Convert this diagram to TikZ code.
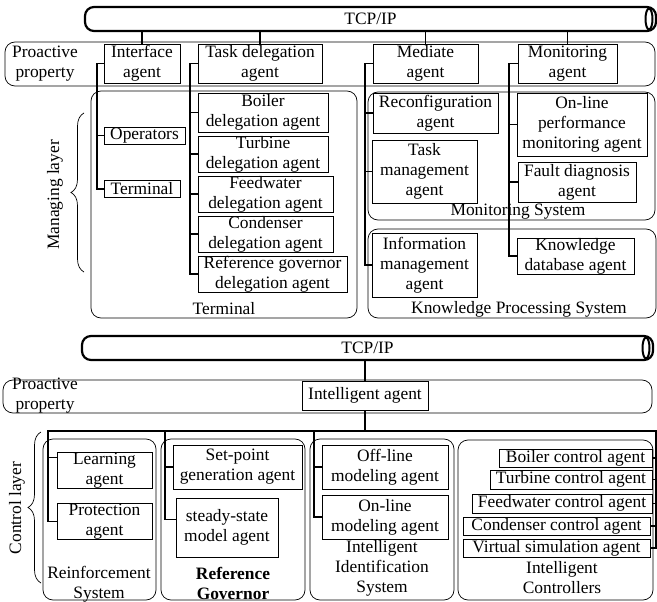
\documentclass[tikz,border=0pt]{standalone}
\usepackage{fontspec}
\setmainfont{Liberation Serif}
\usepackage{tikz}
\usetikzlibrary{decorations.pathreplacing}
\tikzset{
  boxsize/.style 2 args={minimum width=#1pt,minimum height=#2pt},
  agentbox/.style={draw,line width=0.8pt,inner sep=0pt,align=center},
  systembox/.style={draw,line width=0.7pt,rounded corners=10pt},
  trunk/.style={line width=1.8pt},
  pipe/.style={draw,line width=2.2pt,rounded corners=9pt,inner sep=0pt},
  layerbrace/.style={decorate,decoration={brace,amplitude=13pt},line width=0.7pt}
}

\begin{document}
\begin{tikzpicture}[x=1pt,y=-1pt,font=\fontsize{17.4}{20}\selectfont]
    \useasboundingbox (0,0) rectangle (657,602);

    \node[pipe,boxsize={571}{24}] (tcpA) at (370.5,19) {TCP/IP};
    \draw[line width=2pt] (649,19) ellipse (3.5pt and 10.5pt);
    \draw[systembox] (5,42) rectangle (655,86);
    \node[align=center] (propA) at (45,64) {Proactive\\property};

    \draw[systembox] (91,91) rectangle (357,318);
    \draw[systembox] (368,92) rectangle (655,220);
    \draw[systembox] (368,229) rectangle (656,318);
    \node (termlbl) at (224,309) {Terminal};
    \node (monlbl) at (518,212) {Monitoring System};
    \node (kpslbl) at (519,309) {Knowledge Processing System};

    \draw[layerbrace] (84,272) -- (84,113);
    \node[rotate=90] (manlbl) at (55,195) {Managing layer};

    \node[agentbox,boxsize={76}{39}] (iface) at (142,63.5) {Interface\\agent};
    \node[agentbox,boxsize={124}{39}] (taskdel) at (260,63.5) {Task delegation\\agent};
    \node[agentbox,boxsize={105}{39}] (mediate) at (425.5,63.5) {Mediate\\agent};
    \node[agentbox,boxsize={99}{39}] (monitor) at (567.5,63.5) {Monitoring\\agent};

    \node[agentbox,boxsize={81}{17}] (operators) at (144.5,135.5) {Operators};
    \node[agentbox,boxsize={76}{17}] (terminal) at (142,189) {Terminal};

    \node[agentbox,boxsize={130}{39}] (boilerdel) at (263,112.5) {Boiler\\delegation agent};
    \node[agentbox,boxsize={130}{36}] (turbdel) at (263,154) {Turbine\\delegation agent};
    \node[agentbox,boxsize={135}{36}] (feeddel) at (265.5,194) {Feedwater\\delegation agent};
    \node[agentbox,boxsize={135}{36}] (conddel) at (265.5,234) {Condenser\\delegation agent};
    \node[agentbox,boxsize={149}{36}] (refdel) at (272.5,274) {Reference governor\\delegation agent};

    \node[agentbox,boxsize={125}{40}] (reconf) at (435.5,113) {Reconfiguration\\agent};
    \node[agentbox,boxsize={105}{63}] (taskmgmt) at (424.5,171.5) {Task\\management\\agent};
    \node[agentbox,boxsize={105}{64}] (infomgmt) at (424.5,265) {Information\\management\\agent};

    \node[agentbox,boxsize={130}{63}] (online) at (582,124.5) {On-line\\performance\\monitoring agent};
    \node[agentbox,boxsize={118}{40}] (fault) at (577,182) {Fault diagnosis\\agent};
    \node[agentbox,boxsize={117}{36}] (knowdb) at (575.5,256) {Knowledge\\database agent};

    \foreach \n in {iface,taskdel,mediate,monitor}
        \draw[trunk] (\n.north) -- (\n.north |- tcpA.south);

    \coordinate (ifT) at (97,0);
    \coordinate (tdT) at (190,0);
    \coordinate (mdT) at (365,0);
    \coordinate (moT) at (509,0);
    \draw[trunk] (iface.west) -| (ifT |- terminal.west) -- (terminal.west);
    \draw[trunk] (ifT |- operators.west) -- (operators.west);
    \draw[trunk] (taskdel.west) -| (tdT |- refdel.west) -- (refdel.west);
    \foreach \n in {boilerdel,turbdel,feeddel,conddel}
        \draw[trunk] (tdT |- \n.west) -- (\n.west);
    \draw[trunk] (mediate.west) -| (mdT |- infomgmt.west) -- (infomgmt.west);
    \foreach \n in {reconf,taskmgmt}
        \draw[trunk] (mdT |- \n.west) -- (\n.west);
    \draw[trunk] (monitor.west) -| (moT |- knowdb.west) -- (knowdb.west);
    \foreach \n in {online,fault}
        \draw[trunk] (moT |- \n.west) -- (\n.west);

    \node[pipe,boxsize={571}{24}] (tcpB) at (367.5,348) {TCP/IP};
    \draw[line width=2pt] (646,348) ellipse (3.5pt and 10.5pt);
    \draw[systembox] (3,380) rectangle (652,413);
    \node[align=center] (propB) at (45,396) {Proactive\\property};
    \node[agentbox,boxsize={126}{29}] (intel) at (365,395.5) {Intelligent agent};

    \draw[systembox] (43,439) rectangle (156,600);
    \draw[systembox] (161,439) rectangle (305,600);
    \draw[systembox] (310,439) rectangle (454,600);
    \draw[systembox] (458,440) rectangle (653,600);
    \node[align=center] (rslbl) at (99,584) {Reinforcement\\System};
    \node[align=center,font=\fontsize{17.4}{20}\selectfont\bfseries] (rglbl) at (233,583) {Reference\\Governor};
    \node[align=center] (iislbl) at (382,568) {Intelligent\\Identification\\System};
    \node[align=center] (iclbl) at (562,578) {Intelligent\\Controllers};

    \draw[layerbrace] (41,583) -- (41,432);
    \node[rotate=90] (ctllbl) at (17,508) {Control layer};

    \node[agentbox,boxsize={95}{35}] (learn) at (104.5,470.5) {Learning\\agent};
    \node[agentbox,boxsize={95}{35}] (protect) at (104.5,521.5) {Protection\\agent};
    \node[agentbox,boxsize={129}{44}] (setpoint) at (237.5,467) {Set-point\\generation agent};
    \node[agentbox,boxsize={102}{59}] (steady) at (227,527.5) {steady-state\\model agent};
    \node[agentbox,boxsize={126}{44}] (offline) at (385,467) {Off-line\\modeling agent};
    \node[agentbox,boxsize={126}{44}] (onlinemod) at (385,517) {On-line\\modeling agent};

    \node[agentbox,boxsize={153}{18}] (boilerc) at (575.5,458) {Boiler control agent};
    \node[agentbox,boxsize={162}{19}] (turbc) at (571,479.5) {Turbine control agent};
    \node[agentbox,boxsize={180}{19}] (feedc) at (562,503.5) {Feedwater control agent};
    \node[agentbox,boxsize={187}{18}] (condc) at (556.5,526) {Condenser control agent};
    \node[agentbox,boxsize={187}{18}] (virtc) at (556.5,548) {Virtual simulation agent};

    \draw[trunk] (tcpB.south -| intel.north) -- (intel.north);
    \coordinate (rsT) at (48,431);
    \coordinate (rgT) at (165,431);
    \coordinate (isT) at (314,431);
    \coordinate (icT) at (656,431);
    \draw[trunk] (intel.south) -- (intel.south |- rsT);
    \draw[trunk] (rsT |- protect.west) -- (rsT) -- (icT) -- (icT |- virtc.east) -- (virtc.east);
    \draw[trunk] (rsT |- protect.west) -- (protect.west);
    \draw[trunk] ([yshift=13pt]learn.west -| rsT) -- ([yshift=13pt]learn.west);
    \draw[trunk] (rgT) |- ([yshift=8pt]steady.west);
    \draw[trunk] (rgT |- setpoint.west) -- (setpoint.west);
    \draw[trunk] (isT) |- (onlinemod.west);
    \draw[trunk] (isT |- offline.west) -- (offline.west);
    \foreach \n in {boilerc,turbc,feedc,condc}
        \draw[trunk] (icT |- \n.east) -- (\n.east);
\end{tikzpicture}
\end{document}
